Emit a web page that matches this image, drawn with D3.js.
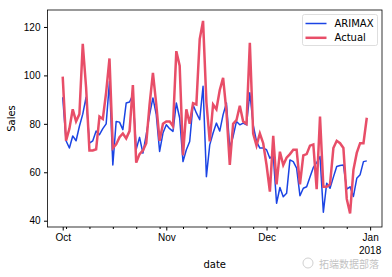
<!DOCTYPE html>
<html>
<head>
<meta charset="utf-8">
<script src="https://cdn.jsdelivr.net/npm/d3@7"></script>
<style>
  body { margin: 0; background: #fff; }
  svg { display: block; font-family: "DejaVu Sans", sans-serif; }
</style>
</head>
<body>
<svg id="chart" width="392" height="277"></svg>
<script>
// Daily values, 2017-10-01 .. 2017-12-31
const startDate = Date.UTC(2017, 9, 1);
const arimax = [
  91, 73, 70, 75, 73, 79, 84, 91, 72, 73, 77, 75.5, 78, 80, 97.5, 63, 81, 80.7, 77.6, 88.6,
  89, 92, 69.5, 74.4, 67.9, 75.5, 83.8, 90.7, 83.8, 68.6, 76.2,
  79.6, 78, 76.9, 88.6, 82.4, 64.4, 69.3, 72.7, 87.9, 84.5, 81.7, 95.5, 58.2, 71.3, 76.2,
  80.3, 77, 83.8, 88.6, 70, 74.8, 81, 79.6, 80.3, 79.6, 92.8, 79.6, 72.7, 70, 70,
  69.3, 65.8, 67.2, 47.2, 53.7, 49.9, 51.3, 65.1, 64.4, 61.7, 50.3, 53.4, 54, 58, 62, 64,
  66.5, 43.5, 55.5, 53.4, 58, 62.4, 62.8, 63, 53, 54, 50, 57.5, 59, 64.4, 64.7
];
const actual = [
  99.5, 73, 78, 86, 81, 84, 113, 95, 69, 69, 69.5, 83, 82, 93, 107, 70, 71.5, 74.5, 76, 74,
  77, 96, 64, 67.5, 69, 72, 88, 101, 88, 73, 80,
  81, 81, 79, 110, 104, 67, 86, 80, 88.5, 88, 115, 122.5, 89, 72.7, 88,
  86, 94, 99, 85, 63, 80, 81.5, 87.5, 81, 80, 113.5, 76, 71, 76, 72,
  63, 52, 75, 55, 68.5, 63, 66, 67.5, 69.3, 69.3, 55, 67, 67.5, 71, 71.5, 53,
  83, 54, 54, 55, 70, 73, 72, 70, 49, 43, 61, 68, 72, 72, 82.5
];
const yTicks = [40, 60, 80, 100, 120];
const monthLabels = ["Oct", "Nov", "Dec", "Jan"];
const seriesNames = ["ARIMAX", "Actual"];
const colors = ["#1b44e4", "#e84e68"];

const dates = arimax.map((_, i) => new Date(startDate + i * 864e5));

const svg = d3.select("#chart");
const margin = { left: 47.5, right: 10, top: 10, bottom: 50 };
const W = 392, H = 277;

// matplotlib-style 5% margins on x
const span = dates[dates.length - 1] - dates[0];
const x = d3.scaleUtc()
  .domain([new Date(+dates[0] - span * 0.05), new Date(+dates[dates.length - 1] + span * 0.05)])
  .range([margin.left, W - margin.right]);
const y = d3.scaleLinear()
  .domain([37.4, 127])
  .range([H - margin.bottom, margin.top]);

// Lines
const line = d3.line().x((d, i) => x(dates[i])).y(d => y(d));
svg.append("path").datum(arimax)
  .attr("d", line).attr("fill", "none")
  .attr("stroke", colors[0]).attr("stroke-width", 1.5).attr("stroke-linejoin", "round");
svg.append("path").datum(actual)
  .attr("d", line).attr("fill", "none")
  .attr("stroke", colors[1]).attr("stroke-width", 2.5).attr("stroke-linejoin", "miter");

// Y axis
svg.append("g")
  .attr("transform", "translate(" + margin.left + ",0)")
  .call(d3.axisLeft(y).tickValues(yTicks).tickSize(3.5).tickPadding(3.5))
  .call(g => g.select(".domain").remove())
  .selectAll("text").style("font-size", "10px").attr("fill", "#000");

// X axis: month majors, Monday minors
const majors = d3.utcMonth.range(new Date(Date.UTC(2017, 9, 1)), new Date(Date.UTC(2018, 0, 2)));
const minors = d3.utcMonday.range(x.domain()[0], x.domain()[1])
  .filter(d => d.getUTCDate() !== 1);
const xg = svg.append("g").attr("transform", "translate(0," + (H - margin.bottom) + ")");
xg.call(d3.axisBottom(x).tickValues(minors).tickSize(2).tickFormat(""))
  .call(g => g.select(".domain").remove());
const xm = svg.append("g").attr("transform", "translate(0," + (H - margin.bottom) + ")")
  .call(d3.axisBottom(x).tickValues(majors).tickSize(3.5).tickPadding(3.5)
    .tickFormat((d, i) => monthLabels[i]))
  .call(g => g.select(".domain").remove());
xm.selectAll("text").style("font-size", "10px").attr("fill", "#000");
xm.append("text")
  .attr("x", x(majors[3])).attr("y", 19.5)
  .attr("dy", "0.71em").attr("text-anchor", "middle")
  .style("font-size", "10px").attr("fill", "#000").text("2018");

// Frame
svg.append("rect")
  .attr("x", margin.left).attr("y", margin.top)
  .attr("width", W - margin.left - margin.right)
  .attr("height", H - margin.top - margin.bottom)
  .attr("fill", "none").attr("stroke", "#000").attr("stroke-width", 0.8);

// Axis labels
svg.append("text")
  .attr("x", (margin.left + W - margin.right) / 2).attr("y", 268)
  .attr("text-anchor", "middle").style("font-size", "10px").text("date");
svg.append("text")
  .attr("transform", "translate(15," + (margin.top + (H - margin.top - margin.bottom) / 2) + ")rotate(-90)")
  .attr("text-anchor", "middle").style("font-size", "10px").text("Sales");

// Legend
const lg = svg.append("g").attr("transform", "translate(302.5,14.5)");
lg.append("rect")
  .attr("width", 75).attr("height", 31).attr("rx", 2)
  .attr("fill", "#fff").attr("fill-opacity", 0.8)
  .attr("stroke", "#d6d6d6").attr("stroke-width", 0.8);
seriesNames.forEach((name, i) => {
  lg.append("line")
    .attr("x1", 3).attr("x2", 24)
    .attr("y1", 9 + i * 14.3).attr("y2", 9 + i * 14.3)
    .attr("stroke", colors[i]).attr("stroke-width", i ? 2.5 : 1.5);
  lg.append("text")
    .attr("x", 32).attr("y", 9 + i * 14.3).attr("dy", "0.35em")
    .style("font-size", "10px").text(name);
});

// Watermark
const wm = svg.append("g").attr("opacity", 0.45);
wm.append("circle").attr("cx", 308).attr("cy", 263).attr("r", 5)
  .attr("fill", "none").attr("stroke", "#999").attr("stroke-width", 1);
wm.append("text").attr("x", 319).attr("y", 268)
  .style("font-family", "'Noto Sans CJK SC', sans-serif")
  .style("font-size", "10px").attr("fill", "#777").text("拓端数据部落");
</script>
</body>
</html>
